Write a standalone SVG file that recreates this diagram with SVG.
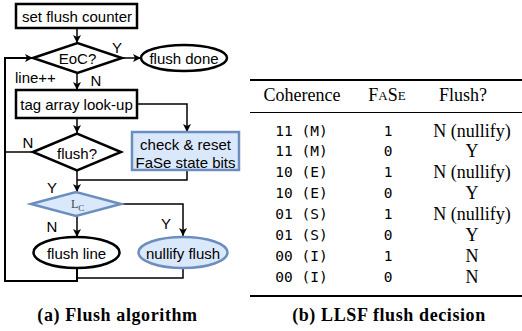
<svg xmlns="http://www.w3.org/2000/svg" width="522" height="331" viewBox="0 0 522 331">
<defs>
<marker id="arr" markerUnits="userSpaceOnUse" markerWidth="10" markerHeight="10" refX="9" refY="5" orient="auto">
<path d="M1,1 L9,5 L1,9 L3,5 Z" fill="#000"/>
</marker>
<style>
.t{font-family:"Liberation Sans",Arial,sans-serif;font-size:15px;fill:#000;text-anchor:middle;dominant-baseline:central}
.lb{font-family:"Liberation Sans",Arial,sans-serif;font-size:15px;fill:#000;dominant-baseline:central}
.blk{fill:#fff;stroke:#000;stroke-width:2.5}
.blu{fill:#dae8fc;stroke:#6c8ebf;stroke-width:2.5}
.c{fill:none;stroke:#000;stroke-width:1.5}
.ca{fill:none;stroke:#000;stroke-width:1.5;marker-end:url(#arr)}
.loop{fill:none;stroke:#000;stroke-width:2}
.s{font-family:"Liberation Serif","Times New Roman",serif;font-size:18px;fill:#000;text-anchor:middle;dominant-baseline:central}
.m{font-family:"DejaVu Sans Mono","Liberation Mono",monospace;font-size:14.5px;fill:#000;text-anchor:middle;dominant-baseline:central}
.cap{font-family:"Liberation Serif","Times New Roman",serif;font-size:18px;font-weight:bold;letter-spacing:0.6px;fill:#000;text-anchor:middle}
</style>
</defs>
<g id="connectors">
<path class="ca" d="M77,28 V43"/>
<path class="ca" d="M122,58 H141"/>
<path class="ca" d="M77,73 V90"/>
<path class="ca" d="M137,104 H187 V132"/>
<path class="ca" d="M77,118 V133"/>
<path class="c" d="M33,152 H5"/>
<path class="ca" d="M77,171 V192"/>
<path class="c" d="M187,170 V180 H77"/>
<path class="ca" d="M121,204 H183 V236"/>
<path class="ca" d="M77,216 V237"/>
<path class="loop" d="M77,268 V281 H5 V58 H33" marker-end="url(#arr)"/>
<path class="c" d="M183,268 V278 H77"/>
</g>
<g id="set-flush-counter">
<rect class="blk" x="16" y="4" width="121" height="24"/>
<text class="t" x="77" y="16.5">set flush counter</text>
</g>
<g id="eoc">
<path class="blk" d="M33,58 L77.5,43 L122,58 L77.5,73 Z"/>
<text class="t" x="77.5" y="58.5">EoC?</text>
</g>
<g id="flush-done">
<ellipse class="blk" cx="184" cy="58" rx="43" ry="13"/>
<text class="t" x="184" y="58.5">flush done</text>
</g>
<g id="tag-lookup">
<rect class="blk" x="16" y="90" width="121" height="28"/>
<text class="t" x="76.5" y="104">tag array look-up</text>
</g>
<g id="check-reset">
<rect class="blu" x="132" y="132" width="107" height="38"/>
<text class="t" x="185.5" y="144">check &amp; reset</text>
<text class="t" x="185.5" y="162">FaSe state bits</text>
</g>
<g id="flush-q">
<path class="blk" d="M33,152 L77,133.5 L121,152 L77,170.5 Z"/>
<text class="t" x="77" y="153">flush?</text>
</g>
<g id="lc">
<path class="blu" d="M31,204 L76,192 L121,204 L76,216 Z"/>
<text x="71" y="208" font-family="Liberation Serif,serif" font-size="12" fill="#444">L<tspan font-size="9" dy="3">C</tspan></text>
</g>
<g id="flush-line">
<ellipse class="blk" cx="76.5" cy="252.5" rx="43" ry="15.5"/>
<text class="t" x="76.5" y="253">flush line</text>
</g>
<g id="nullify-flush">
<ellipse class="blu" cx="183" cy="252.5" rx="44.5" ry="15.5"/>
<text class="t" x="183" y="253">nullify flush</text>
</g>
<g id="labels">
<text class="t" x="117" y="47">Y</text>
<text class="t" x="96" y="80">N</text>
<text class="lb" x="15" y="77">line++</text>
<text class="t" x="28" y="142">N</text>
<text class="t" x="52" y="187">Y</text>
<text class="t" x="52" y="226">N</text>
<text class="t" x="166" y="223">Y</text>
</g>
<g id="table">
<line x1="250" y1="80" x2="522" y2="80" stroke="#000" stroke-width="2"/>
<line x1="250" y1="112.5" x2="522" y2="112.5" stroke="#000" stroke-width="1.2"/>
<line x1="250" y1="296" x2="522" y2="296" stroke="#000" stroke-width="2"/>
<text class="s" x="302" y="95">Coherence</text>
<text class="s" x="387" y="95">F<tspan font-size="13">A</tspan>S<tspan font-size="13">E</tspan></text>
<text class="s" x="463" y="95">Flush?</text>
<g class="m">
<text x="301.5" y="130.5">11 (M)</text><text x="388" y="130.5">1</text>
<text x="301.5" y="151.4">11 (M)</text><text x="388" y="151.4">0</text>
<text x="301.5" y="172.3">10 (E)</text><text x="388" y="172.3">1</text>
<text x="301.5" y="193.2">10 (E)</text><text x="388" y="193.2">0</text>
<text x="301.5" y="214">01 (S)</text><text x="388" y="214">1</text>
<text x="301.5" y="235">01 (S)</text><text x="388" y="235">0</text>
<text x="301.5" y="256">00 (I)</text><text x="388" y="256">1</text>
<text x="301.5" y="277">00 (I)</text><text x="388" y="277">0</text>
</g>
<text class="s" x="472" y="130.5">N (nullify)</text>
<text class="s" x="472" y="151.4">Y</text>
<text class="s" x="472" y="172.3">N (nullify)</text>
<text class="s" x="472" y="193.2">Y</text>
<text class="s" x="472" y="214">N (nullify)</text>
<text class="s" x="472" y="235">Y</text>
<text class="s" x="472" y="256">N</text>
<text class="s" x="472" y="277">N</text>
</g>
<text class="cap" x="117.5" y="321">(a) Flush algorithm</text>
<text class="cap" x="389" y="321">(b) LLSF flush decision</text>
</svg>
